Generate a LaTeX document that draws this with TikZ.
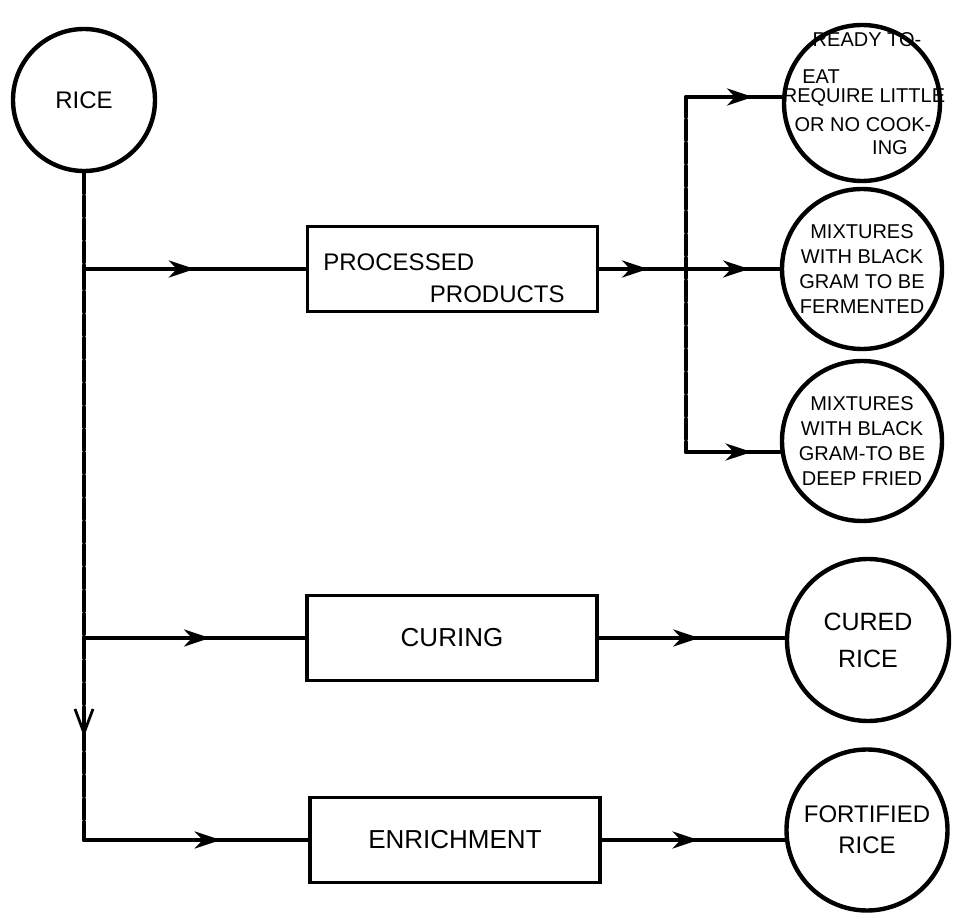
\documentclass[tikz,border=0pt]{standalone}
\usepackage{fontspec}
\setmainfont{Liberation Sans}
\usetikzlibrary{arrows.meta,decorations.markings}
\tikzset{
  conn/.style={line width=2pt, line cap=round, line join=round},
  vdash/.style={dash pattern=on 10pt off 1.5pt},
  ring/.style={circle, draw, line width=2.2pt, inner sep=0pt, align=center},
  boxnode/.style={rectangle, draw, line width=1.9pt, minimum width=145pt, minimum height=42.5pt, inner sep=0pt},
  lbl/.style={inner sep=0pt},
  tipstyle/.style={},
  midarr/.style={postaction={decorate}, decoration={markings, mark=at position #1 with {\arrow{Stealth[length=13pt,width=8.5pt,inset=4pt]}}}},
  midarrtwo/.style 2 args={postaction={decorate}, decoration={markings,
      mark=at position #1 with {\arrow{Stealth[length=13pt,width=8.5pt,inset=4pt]}},
      mark=at position #2 with {\arrow{Stealth[length=13pt,width=8.5pt,inset=4pt]}}}},
  varrow/.style={postaction={decorate}, decoration={markings, mark=at position #1 with {\arrow{Straight Barb[length=12pt,width=9pt,line width=1.4pt]}}}},
  bigf/.style={font=\fontsize{12}{14}\selectfont},
  boxf/.style={font=\fontsize{13}{15}\selectfont},
  smallf/.style={font=\fontsize{10}{12.5}\selectfont},
}
\begin{document}
\begin{tikzpicture}[x=0.5pt,y=-0.5pt]
\useasboundingbox (0,0) rectangle (959,914);

% nodes
\node[ring, minimum size=71pt, bigf] (rice) at (84,100) {RICE};
\node[boxnode] (proc) at (452.5,269) {};
\node[lbl, bigf, anchor=west] (proct1) at (323,262) {PROCESSED};
\node[lbl, bigf, anchor=east] (proct2) at (565,294) {PRODUCTS};
\node[boxnode, boxf] (cur) at (452,638) {CURING};
\node[boxnode, boxf] (enr) at (455,840) {ENRICHMENT};

\node[ring, minimum size=78pt] (top) at (862,103) {};
\node[lbl, smallf] (t1) at (867,40) {READY TO-};
\node[lbl, smallf, anchor=west] (t2) at (802,77) {EAT};
\node[lbl, smallf] (t3) at (864,97) {REQUIRE LITTLE};
\node[lbl, smallf] (t4) at (863,125) {OR NO COOK-};
\node[lbl, smallf] (t5) at (890,148) {ING};

\node[ring, minimum size=80pt, smallf] (mid) at (862,269) {MIXTURES\\WITH BLACK\\GRAM TO BE\\FERMENTED};
\node[ring, minimum size=80pt, smallf] (bot) at (862,441) {MIXTURES\\WITH BLACK\\GRAM-TO BE\\DEEP FRIED};
\node[ring, minimum size=81pt, font=\fontsize{12.5}{18.5}\selectfont] (cured) at (868,640) {CURED\\RICE};
\node[ring, minimum size=80.5pt, font=\fontsize{12}{15.5}\selectfont] (fort) at (867,830) {FORTIFIED\\RICE};

% junction points
\coordinate (jp) at (rice.south |- proc.west);
\coordinate (jc) at (rice.south |- cur.west);
\coordinate (je) at (rice.south |- enr.west);
\coordinate (rt) at (686,97);
\coordinate (rb) at (686,452);

% left trunk
\draw[conn, vdash] (rice.south) -- (jp);
\draw[conn, vdash] (jp) -- (jc);
\draw[conn, vdash, varrow=0.49] (jc) -- (je);

% branches
\draw[conn, midarr=0.5] (jp) -- (proc.west);
\draw[conn, midarr=0.57] (jc) -- (cur.west);
\draw[conn, midarr=0.61] (je) -- (enr.west);

% processed products fan-out
\draw[conn, midarrtwo={0.27}{0.83}] (proc.east) -- (mid.west);
\draw[conn, vdash] (rt) -- (rb);
\draw[conn, midarr=0.7] (rt) -- (rt -| top.west);
\draw[conn, midarr=0.7] (rb) -- (rb -| bot.west);

% outputs
\draw[conn, midarr=0.54] (cur.east) -- (cur.east -| cured.west);
\draw[conn, midarr=0.53] (enr.east) -- (enr.east -| fort.west);
\end{tikzpicture}
\end{document}
